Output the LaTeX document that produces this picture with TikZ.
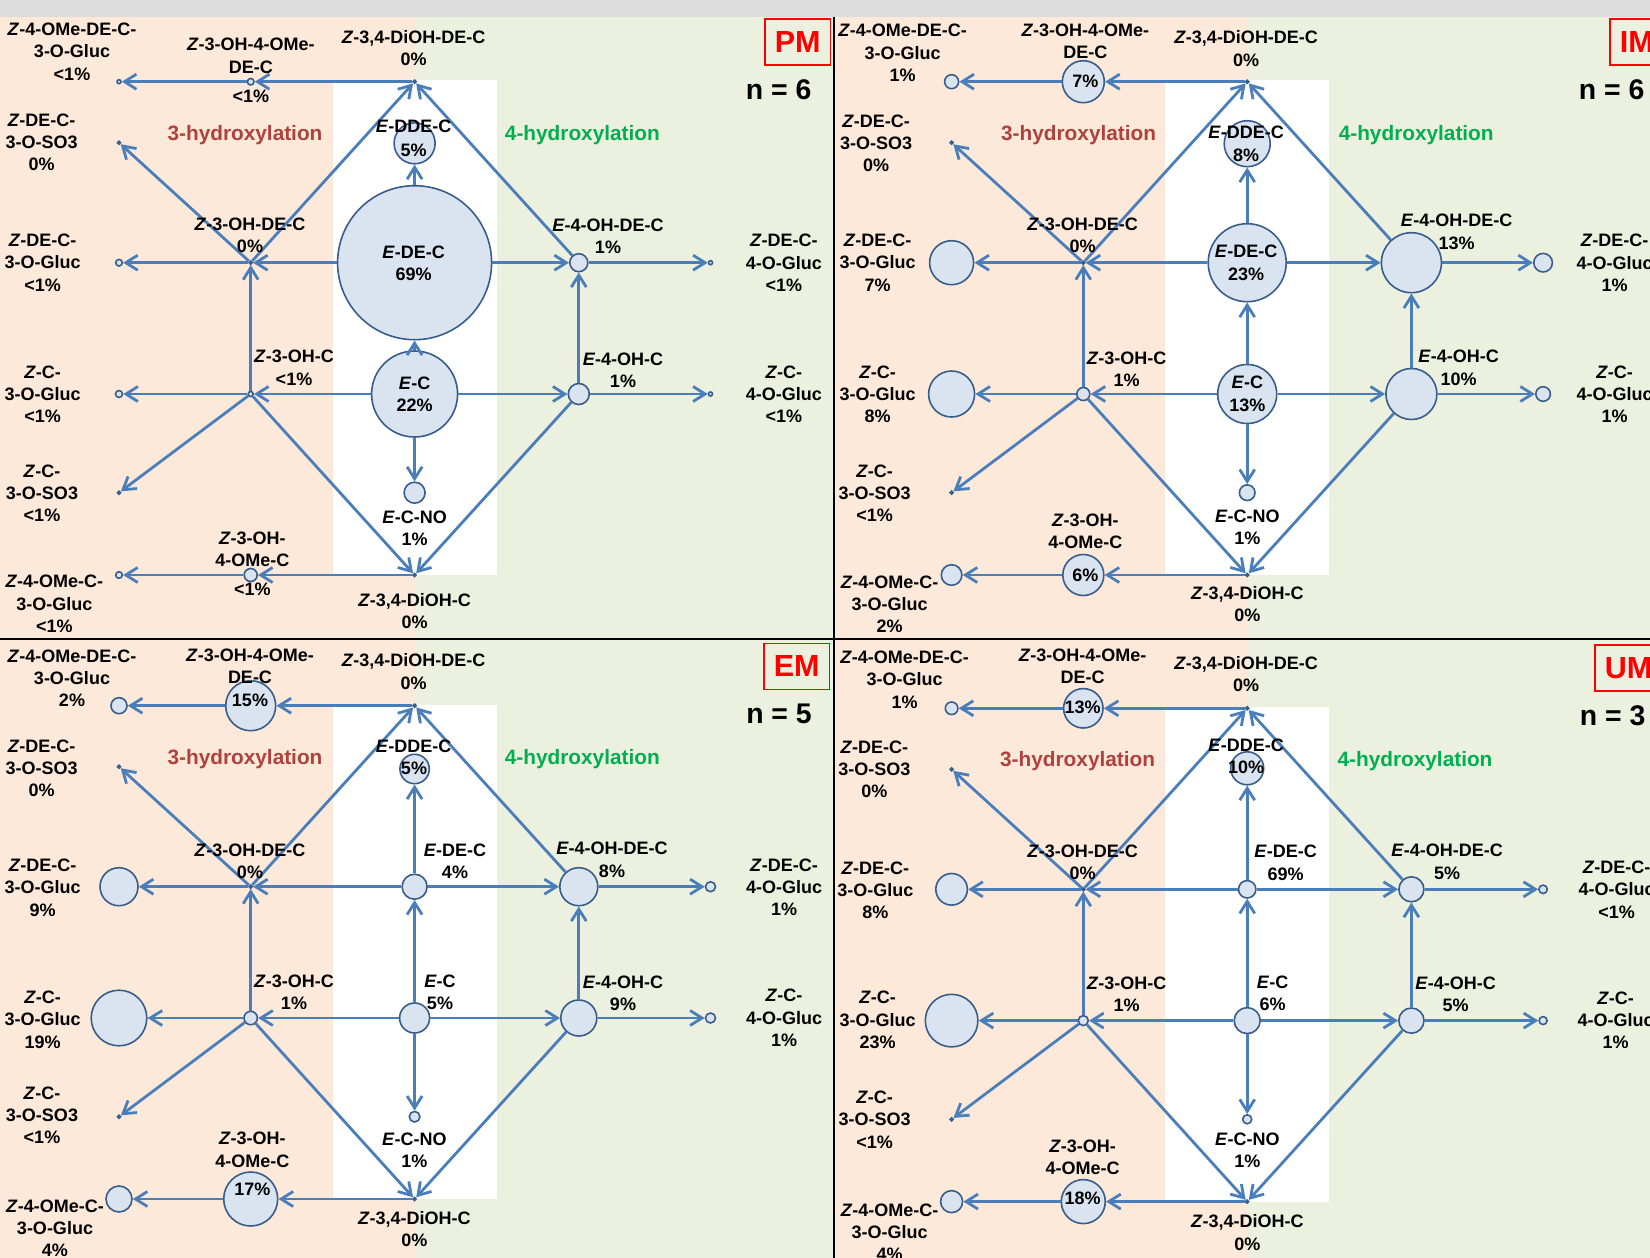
\documentclass[tikz,border=0pt]{standalone}
\usepackage{fontspec}
\setmainfont{Liberation Sans}
\usetikzlibrary{arrows.meta}
\definecolor{cpeach}{HTML}{FDE9D9}
\definecolor{cgreen}{HTML}{EBF1DE}
\definecolor{cgray}{HTML}{DCDCDC}
\definecolor{cline}{HTML}{4A7EBB}
\definecolor{cborder}{HTML}{385D8A}
\definecolor{cfill}{HTML}{DAE4F1}
\definecolor{cthree}{HTML}{B0413E}
\definecolor{cfour}{HTML}{00B050}
\newcommand{\Zi}{\textit{Z}}
\newcommand{\Ei}{\textit{E}}
\tikzset{
  cn/.style={circle, draw=cborder, fill=cfill, line width=1.6pt, inner sep=0pt, outer sep=0.8pt, minimum size=#1*2pt},
  ed/.style={draw=cline, line width=2.8pt, -{Straight Barb[length=12pt,width=15pt]}},
  lbl/.style={font=\bfseries\fontsize{18}{22.3}\selectfont, align=center, inner sep=0pt},
  hyd/.style={font=\bfseries\fontsize{20.8}{24}\selectfont, inner sep=0pt, anchor=base},
  nn/.style={font=\bfseries\fontsize{28.4}{30}\selectfont, inner sep=0pt},
  pbox/.style={draw=red, line width=1.6pt, text=red, inner xsep=10pt, inner ysep=0pt, minimum height=46pt, anchor=west, font=\bfseries\fontsize{30.5}{32}\selectfont},
}
\newcommand{\panelbody}{%
  \node[cn=\Rogde] (ogde) at (119,81.7) {};
  \node[cn=\Rmde] (mde) at (250.7,81.7) {};
  \node[cn=\Rdiohde] (diohde) at (414.6,81.7) {};
  \node[cn=\Rsode] (sode) at (119,142.7) {};
  \node[cn=\Rdde] (dde) at (414.6,\Ydde) {};
  \node[cn=\Rgde] (gde) at (119,262.7) {};
  \node[cn=\Rohde] (ohde) at (250.7,262.7) {};
  \node[cn=\Redc] (edc) at (414.6,262.7) {};
  \node[cn=\Rfode] (fode) at (578.8,262.7) {};
  \node[cn=\Rgfde] (gfde) at (710.5,262.7) {};
  \node[cn=\Rgc] (gc) at (119,394) {};
  \node[cn=\Rohc] (ohc) at (250.7,394) {};
  \node[cn=\Rec] (ec) at (414.6,394) {};
  \node[cn=\Rfoc] (foc) at (578.8,394) {};
  \node[cn=\Rgfc] (gfc) at (710.5,394) {};
  \node[cn=\Rsoc] (soc) at (119,492.7) {};
  \node[cn=\Rno] (no) at (414.6,492.7) {};
  \node[cn=\Rogc] (ogc) at (119,575) {};
  \node[cn=\Rmc] (mc) at (250.7,575) {};
  \node[cn=\Rdioh] (dioh) at (414.6,575) {};
  \draw[ed] (diohde) -- (mde);
  \draw[ed] (mde) -- (ogde);
  \draw[ed] (ohde) -- (diohde);
  \draw[ed] (fode) -- (diohde);
  \draw[ed] (ohde) -- (sode);
  \draw[ed] (ohde) -- (gde);
  \draw[ed] (edc) -- (ohde);
  \draw[ed] (edc) -- (dde);
  \draw[ed] (edc) -- (fode);
  \draw[ed] (fode) -- (gfde);
  \draw[ed] (ohc) -- (ohde);
  \draw[ed] (ec) -- (edc);
  \draw[ed] (foc) -- (fode);
  \draw[ed] (ec) -- (ohc);
  \draw[ed] (ohc) -- (gc);
  \draw[ed] (ec) -- (foc);
  \draw[ed] (foc) -- (gfc);
  \draw[ed] (ohc) -- (soc);
  \draw[ed] (ohc) -- (dioh);
  \draw[ed] (foc) -- (dioh);
  \draw[ed] (ec) -- (no);
  \draw[ed] (dioh) -- (mc);
  \draw[ed] (mc) -- (ogc);
}
\begin{document}
\begin{tikzpicture}[x=1pt,y=-1pt]
\useasboundingbox (0,0) rectangle (1650,1258);
\clip (0,0) rectangle (1650,1258);
\fill[cgray] (0,0) rectangle (1650,17);
% backgrounds
\fill[cpeach] (0,17) rectangle (414.6,639);
\fill[cgreen] (414.6,17) rectangle (833.5,639);
\fill[white] (332.5,80) rectangle (496.7,575);
\fill[cpeach] (833.5,17) rectangle (1247.2,639);
\fill[cgreen] (1247.2,17) rectangle (1650,639);
\fill[white] (1165.1,80) rectangle (1329.3,575);
\fill[cpeach] (0,639) rectangle (414.6,1258);
\fill[cgreen] (414.6,639) rectangle (833.5,1258);
\fill[white] (332.5,704.5) rectangle (496.7,1199);
\fill[cpeach] (833.5,639) rectangle (1247.2,1258);
\fill[cgreen] (1247.2,639) rectangle (1650,1258);
\fill[white] (1165.1,706.5) rectangle (1329.3,1201.6);
\draw[line width=2.5pt] (833.8,17) -- (833.8,1258);
\draw[line width=2pt] (0,638.8) -- (1650,638.8);

% ---------- PM ----------
\begin{scope}[name prefix=pm-]
\def\Rogde{2}\def\Rmde{3.3}\def\Rdiohde{1.5}\def\Rsode{1.5}\def\Rdde{20.5}\def\Ydde{143.3}
\def\Rgde{3.3}\def\Rohde{1.5}\def\Redc{77}\def\Rfode{9}\def\Rgfde{2}
\def\Rgc{3.5}\def\Rohc{2.5}\def\Rec{43}\def\Rfoc{10.5}\def\Rgfc{2}
\def\Rsoc{1.5}\def\Rno{10.5}\def\Rogc{3.3}\def\Rmc{6.5}\def\Rdioh{1.5}
\panelbody
\node[lbl] (t1) at (72,51.7) {\Zi-4-OMe-DE-C-\\3-O-Gluc\\<1\%};
\node[lbl] (t2) at (250.8,55.8) {\Zi-3-OH-4-OMe-\\DE-C};
\node[lbl] (p2) at (250.8,96.7) {<1\%};
\node[lbl] (t3) at (413.6,48.3) {\Zi-3,4-DiOH-DE-C\\0\%};
\node[lbl] (t4) at (41.7,142.5) {\Zi-DE-C-\\3-O-SO3\\0\%};
\node[hyd, text=cthree] (h3) at (245,140) {3-hydroxylation};
\node[lbl] (t6) at (413.6,126.7) {\Ei-DDE-C};
\node[lbl] (p6) at (413.6,150) {5\%};
\node[hyd, text=cfour] (h4) at (582.4,140) {4-hydroxylation};
\node[lbl] (t8) at (250,235.3) {\Zi-3-OH-DE-C\\0\%};
\node[lbl] (t9) at (42.7,262.7) {\Zi-DE-C-\\3-O-Gluc\\<1\%};
\node[lbl] (t10) at (413.6,263.3) {\Ei-DE-C\\69\%};
\node[lbl] (t11) at (608,236.3) {\Ei-4-OH-DE-C\\1\%};
\node[lbl] (t12) at (783.8,263) {\Zi-DE-C-\\4-O-Gluc\\<1\%};
\node[lbl] (t13) at (294,367.8) {\Zi-3-OH-C\\<1\%};
\node[lbl] (t14) at (42.7,394.2) {\Zi-C-\\3-O-Gluc\\<1\%};
\node[lbl] (t15) at (414.7,394.3) {\Ei-C\\22\%};
\node[lbl] (t16) at (623,370) {\Ei-4-OH-C\\1\%};
\node[lbl] (t17) at (783.8,394.2) {\Zi-C-\\4-O-Gluc\\<1\%};
\node[lbl] (t18) at (42,493.3) {\Zi-C-\\3-O-SO3\\<1\%};
\node[lbl] (t19) at (414.7,528) {\Ei-C-NO\\1\%};
\node[lbl] (t20) at (252.3,549.2) {\Zi-3-OH-\\4-OMe-C};
\node[lbl] (p20) at (252.3,589.3) {<1\%};
\node[lbl] (t21) at (54.3,603.9) {\Zi-4-OMe-C-\\3-O-Gluc\\<1\%};
\node[lbl] (t22) at (414.7,611.2) {\Zi-3,4-DiOH-C\\0\%};
\node[pbox] (box) at (764,42) {PM};
\node[nn] (n) at (778.6,90) {n = 6};
\end{scope}

% ---------- IM ----------
\begin{scope}[shift={(832.6,0)}, name prefix=im-]
\def\Rogde{7}\def\Rmde{21}\def\Rdiohde{1.5}\def\Rsode{1.5}\def\Rdde{23}\def\Ydde{143.7}
\def\Rgde{22}\def\Rohde{1.5}\def\Redc{39}\def\Rfode{30}\def\Rgfde{9.3}
\def\Rgc{23}\def\Rohc{6.5}\def\Rec{29.5}\def\Rfoc{25.5}\def\Rgfc{7.3}
\def\Rsoc{1.5}\def\Rno{7.8}\def\Rogc{10.3}\def\Rmc{20.5}\def\Rdioh{1.5}
\panelbody
\node[lbl] (t1) at (70,53) {\Zi-4-OMe-DE-C-\\3-O-Gluc\\1\%};
\node[lbl] (t2) at (252.7,41.2) {\Zi-3-OH-4-OMe-\\DE-C};
\node[lbl] (p2) at (252.7,81.7) {7\%};
\node[lbl] (t3) at (413.6,48.6) {\Zi-3,4-DiOH-DE-C\\0\%};
\node[lbl] (t4) at (43.6,143.5) {\Zi-DE-C-\\3-O-SO3\\0\%};
\node[hyd, text=cthree] (h3) at (246,140) {3-hydroxylation};
\node[lbl] (t6) at (413.6,132.7) {\Ei-DDE-C};
\node[lbl] (p6) at (413.6,155) {8\%};
\node[hyd, text=cfour] (h4) at (583.6,140) {4-hydroxylation};
\node[lbl] (t8) at (250,235.3) {\Zi-3-OH-DE-C\\0\%};
\node[lbl] (t9) at (45,262.5) {\Zi-DE-C-\\3-O-Gluc\\7\%};
\node[lbl] (t10) at (413.6,262.8) {\Ei-DE-C\\23\%};
\node[lbl] (t11) at (624,231.7) {\Ei-4-OH-DE-C\\13\%};
\node[lbl] (t12) at (782,263) {\Zi-DE-C-\\4-O-Gluc\\1\%};
\node[lbl] (t13) at (294,369.5) {\Zi-3-OH-C\\1\%};
\node[lbl] (t14) at (45,394.2) {\Zi-C-\\3-O-Gluc\\8\%};
\node[lbl] (t15) at (414.7,393.8) {\Ei-C\\13\%};
\node[lbl] (t16) at (626,367.8) {\Ei-4-OH-C\\10\%};
\node[lbl] (t17) at (782,394.2) {\Zi-C-\\4-O-Gluc\\1\%};
\node[lbl] (t18) at (42,493.3) {\Zi-C-\\3-O-SO3\\<1\%};
\node[lbl] (t19) at (414.7,527.2) {\Ei-C-NO\\1\%};
\node[lbl] (t20) at (252.7,531.5) {\Zi-3-OH-\\4-OMe-C};
\node[lbl] (p20) at (252.7,575) {6\%};
\node[lbl] (t21) at (57,604.3) {\Zi-4-OMe-C-\\3-O-Gluc\\2\%};
\node[lbl] (t22) at (414.7,604.2) {\Zi-3,4-DiOH-C\\0\%};
\node[pbox] (box) at (776.4,42) {IM};
\node[nn] (n) at (779,89.3) {n = 6};
\end{scope}

% ---------- EM ----------
\begin{scope}[shift={(0,624)}, name prefix=em-]
\def\Rogde{8}\def\Rmde{25}\def\Rdiohde{1.5}\def\Rsode{1.5}\def\Rdde{14.7}\def\Ydde{145}
\def\Rgde{19}\def\Rohde{1.5}\def\Redc{12.5}\def\Rfode{19}\def\Rgfde{5}
\def\Rgc{27.8}\def\Rohc{6.7}\def\Rec{15}\def\Rfoc{18}\def\Rgfc{5}
\def\Rsoc{1.5}\def\Rno{5.3}\def\Rogc{13}\def\Rmc{27}\def\Rdioh{1.5}
\panelbody
\node[lbl] (t1) at (72,54.2) {\Zi-4-OMe-DE-C-\\3-O-Gluc\\2\%};
\node[lbl] (t2) at (250,42.5) {\Zi-3-OH-4-OMe-\\DE-C};
\node[lbl] (p2) at (250,76) {15\%};
\node[lbl] (t3) at (413.6,47.5) {\Zi-3,4-DiOH-DE-C\\0\%};
\node[lbl] (t4) at (41.7,144.4) {\Zi-DE-C-\\3-O-SO3\\0\%};
\node[hyd, text=cthree] (h3) at (245,140.5) {3-hydroxylation};
\node[lbl] (t6) at (413.6,122.3) {\Ei-DDE-C};
\node[lbl] (p6) at (414,144.3) {5\%};
\node[hyd, text=cfour] (h4) at (582.3,140.5) {4-hydroxylation};
\node[lbl] (t8) at (250,237) {\Zi-3-OH-DE-C\\0\%};
\node[lbl] (t9) at (42.7,263.7) {\Zi-DE-C-\\3-O-Gluc\\9\%};
\node[lbl] (t10) at (455,237) {\Ei-DE-C\\4\%};
\node[lbl] (t11) at (612,235.8) {\Ei-4-OH-DE-C\\8\%};
\node[lbl] (t12) at (784,263.3) {\Zi-DE-C-\\4-O-Gluc\\1\%};
\node[lbl] (t13) at (294,368.5) {\Zi-3-OH-C\\1\%};
\node[lbl] (t14) at (42.7,395.5) {\Zi-C-\\3-O-Gluc\\19\%};
\node[lbl] (t15) at (440,368.5) {\Ei-C\\5\%};
\node[lbl] (t16) at (623,369) {\Ei-4-OH-C\\9\%};
\node[lbl] (t17) at (784,394) {\Zi-C-\\4-O-Gluc\\1\%};
\node[lbl] (t18) at (42,491.2) {\Zi-C-\\3-O-SO3\\<1\%};
\node[lbl] (t19) at (414.3,526.3) {\Ei-C-NO\\1\%};
\node[lbl] (t20) at (252.3,525.7) {\Zi-3-OH-\\4-OMe-C};
\node[lbl] (p20) at (252.3,565.3) {17\%};
\node[lbl] (t21) at (55,604.3) {\Zi-4-OMe-C-\\3-O-Gluc\\4\%};
\node[lbl] (t22) at (414.3,604.8) {\Zi-3,4-DiOH-C\\0\%};
\node[pbox] (box) at (763,42.5) {EM};
\node[nn] (n) at (779,90) {n = 5};
\end{scope}

% ---------- UM ----------
\begin{scope}[shift={(832.6,626.6)}, name prefix=um-]
\def\Rogde{6.3}\def\Rmde{19.7}\def\Rdiohde{1.5}\def\Rsode{1.5}\def\Rdde{16.5}\def\Ydde{141.7}
\def\Rgde{15.8}\def\Rohde{1.5}\def\Redc{8.7}\def\Rfode{12.5}\def\Rgfde{4.2}
\def\Rgc{26.3}\def\Rohc{5}\def\Rec{13}\def\Rfoc{12.6}\def\Rgfc{4}
\def\Rsoc{1.5}\def\Rno{4.5}\def\Rogc{11}\def\Rmc{22}\def\Rdioh{1.5}
\panelbody
\node[lbl] (t1) at (72,53) {\Zi-4-OMe-DE-C-\\3-O-Gluc\\1\%};
\node[lbl] (t2) at (250,39.8) {\Zi-3-OH-4-OMe-\\DE-C};
\node[lbl] (p2) at (250,80.7) {13\%};
\node[lbl] (t3) at (413.6,47.7) {\Zi-3,4-DiOH-DE-C\\0\%};
\node[lbl] (t4) at (41.7,142.7) {\Zi-DE-C-\\3-O-SO3\\0\%};
\node[hyd, text=cthree] (h3) at (245,139.7) {3-hydroxylation};
\node[lbl] (t6) at (413.6,118.4) {\Ei-DDE-C};
\node[lbl] (p6) at (413.6,140.7) {10\%};
\node[hyd, text=cfour] (h4) at (582.4,139.7) {4-hydroxylation};
\node[lbl] (t8) at (250,235.7) {\Zi-3-OH-DE-C\\0\%};
\node[lbl] (t9) at (42.7,263.7) {\Zi-DE-C-\\3-O-Gluc\\8\%};
\node[lbl] (t10) at (453,236.2) {\Ei-DE-C\\69\%};
\node[lbl] (t11) at (614.5,235.2) {\Ei-4-OH-DE-C\\5\%};
\node[lbl] (t12) at (784,263) {\Zi-DE-C-\\4-O-Gluc\\<1\%};
\node[lbl] (t13) at (294,368) {\Zi-3-OH-C\\1\%};
\node[lbl] (t14) at (45,393.5) {\Zi-C-\\3-O-Gluc\\23\%};
\node[lbl] (t15) at (440,366.5) {\Ei-C\\6\%};
\node[lbl] (t16) at (623,368) {\Ei-4-OH-C\\5\%};
\node[lbl] (t17) at (783,393.5) {\Zi-C-\\4-O-Gluc\\1\%};
\node[lbl] (t18) at (42,493) {\Zi-C-\\3-O-SO3\\<1\%};
\node[lbl] (t19) at (414.7,524) {\Ei-C-NO\\1\%};
\node[lbl] (t20) at (250,530.4) {\Zi-3-OH-\\4-OMe-C};
\node[lbl] (p20) at (250,572) {18\%};
\node[lbl] (t21) at (57,605.6) {\Zi-4-OMe-C-\\3-O-Gluc\\4\%};
\node[lbl] (t22) at (414.7,606) {\Zi-3,4-DiOH-C\\0\%};
\node[pbox] (box) at (761.4,41.4) {UM};
\node[nn] (n) at (780,88.7) {n = 3};
\end{scope}
\end{tikzpicture}
\end{document}
